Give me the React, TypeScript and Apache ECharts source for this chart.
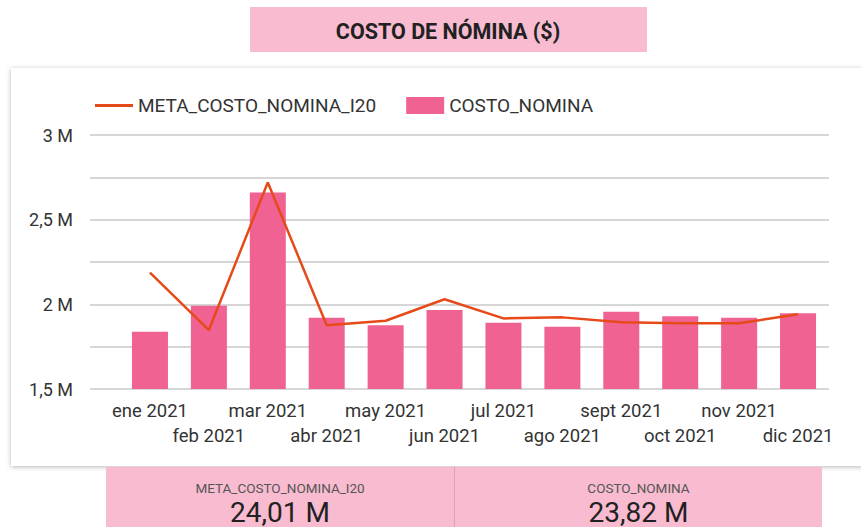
import React, { useEffect, useRef } from "react";
import * as echarts from "echarts";

const months = ["ene 2021", "feb 2021", "mar 2021", "abr 2021", "may 2021", "jun 2021", "jul 2021", "ago 2021", "sept 2021", "oct 2021", "nov 2021", "dic 2021"];
const costoNomina = [1838000, 1992000, 2661000, 1921000, 1876000, 1966000, 1891000, 1868000, 1956000, 1929000, 1921000, 1947000];
const metaCosto = [2187000, 1848000, 2720000, 1876000, 1903000, 2030000, 1917000, 1923000, 1894000, 1888000, 1888000, 1941000];
const seriesNames = ["META_COSTO_NOMINA_I20", "COSTO_NOMINA"];
const totalLabels = ["24,01 M", "23,82 M"];
const chartTitle = "COSTO DE NÓMINA ($)";

const FONT = "Roboto";

export default function App() {
  const ref = useRef<HTMLDivElement>(null);
  useEffect(() => {
    if (!ref.current) return;
    const chart = echarts.init(ref.current, undefined, { renderer: "svg" });
    const yMin = 1500000;
    const yMax = 3000000;
    const yInt = 250000;
    const fmtY = (v: number) =>
      v % 500000 === 0 ? String(v / 1000000).replace(".", ",") + " M" : "";
    chart.setOption({
      animation: false,
      backgroundColor: "#ffffff",
      textStyle: { fontFamily: FONT },
      graphic: [
        {
          type: "rect",
          z: -5,
          shape: { x: 11, y: 68, width: 870, height: 398 },
          style: { fill: "#ffffff", shadowBlur: 5, shadowColor: "rgba(0,0,0,0.28)", shadowOffsetY: 1 },
        },
        {
          type: "rect",
          shape: { x: 250, y: 7, width: 397, height: 45 },
          style: { fill: "#f8bbd0" },
        },
        {
          type: "text",
          x: 448,
          y: 31,
          style: {
            text: chartTitle,
            fill: "#212121",
            font: "bold 21.5px Roboto",
            align: "center",
            verticalAlign: "middle",
          },
        },
        {
          type: "rect",
          shape: { x: 106, y: 467, width: 348, height: 60 },
          style: { fill: "#f8bbd0" },
        },
        {
          type: "rect",
          shape: { x: 455, y: 467, width: 367, height: 60 },
          style: { fill: "#f8bbd0" },
        },
        {
          type: "line",
          shape: { x1: 454.5, y1: 467, x2: 454.5, y2: 527 },
          style: { stroke: "#d8a4b7", lineWidth: 1 },
        },
        {
          type: "text",
          x: 280,
          y: 488,
          style: { text: seriesNames[0], fill: "#555555", font: "13.5px Roboto", align: "center", verticalAlign: "middle" },
        },
        {
          type: "text",
          x: 280,
          y: 512,
          style: { text: totalLabels[0], fill: "#212121", font: "28px Roboto", align: "center", verticalAlign: "middle" },
        },
        {
          type: "text",
          x: 638.5,
          y: 488,
          style: { text: seriesNames[1], fill: "#555555", font: "13.5px Roboto", align: "center", verticalAlign: "middle" },
        },
        {
          type: "text",
          x: 638.5,
          y: 512,
          style: { text: totalLabels[1], fill: "#212121", font: "28px Roboto", align: "center", verticalAlign: "middle" },
        },
      ],
      legend: {
        left: 90,
        top: 91,
        itemWidth: 38,
        itemHeight: 17,
        itemGap: 30,
        symbolKeepAspect: true,
        data: [
          { name: seriesNames[0], icon: "path://M0,0 L38,0 L38,3 L0,3 Z" },
          { name: seriesNames[1], icon: "rect" },
        ],
        textStyle: { fontSize: 19, color: "#333333", fontFamily: FONT },
      },
      grid: [
        { left: 90, right: 32, top: 135, bottom: 138 },
        { left: 120.5, right: 33.5, top: 135, bottom: 138 },
      ],
      xAxis: [
        { type: "category", gridIndex: 0, show: false, data: months },
        {
          type: "category",
          gridIndex: 1,
          data: months,
          axisLine: { show: false },
          axisTick: { show: false },
          axisLabel: {
            interval: (i: number) => i % 2 === 0,
            margin: 12,
            fontSize: 18.5,
            color: "#333333",
            fontFamily: FONT,
          },
        },
        {
          type: "category",
          gridIndex: 1,
          position: "bottom",
          data: months,
          axisLine: { show: false },
          axisTick: { show: false },
          axisLabel: {
            interval: (i: number) => i % 2 === 1,
            margin: 37,
            fontSize: 18.5,
            color: "#333333",
            fontFamily: FONT,
          },
        },
      ],
      yAxis: [
        {
          type: "value",
          gridIndex: 0,
          min: yMin,
          max: yMax,
          interval: yInt,
          axisLine: { show: false },
          axisTick: { show: false },
          axisLabel: { formatter: fmtY, margin: 17, fontSize: 18, color: "#333333", fontFamily: FONT },
          splitLine: { lineStyle: { color: "#d6d6d6", width: 2 } },
        },
        {
          type: "value",
          gridIndex: 1,
          min: yMin,
          max: yMax,
          interval: yInt,
          show: false,
          splitLine: { show: false },
        },
      ],
      series: [
        {
          name: seriesNames[1],
          type: "bar",
          xAxisIndex: 1,
          yAxisIndex: 1,
          data: costoNomina,
          barWidth: 36,
          itemStyle: { color: "#f06292" },
        },
        {
          name: seriesNames[0],
          type: "line",
          xAxisIndex: 1,
          yAxisIndex: 1,
          data: metaCosto,
          symbol: "none",
          lineStyle: { color: "#e64a19", width: 2.5 },
          itemStyle: { color: "#e64a19" },
        },
      ],
    });
    return () => chart.dispose();
  }, []);
  return (
    <div
      ref={ref}
      style={{ position: "absolute", left: 0, top: 0, width: 861, height: 527 }}
    />
  );
}
